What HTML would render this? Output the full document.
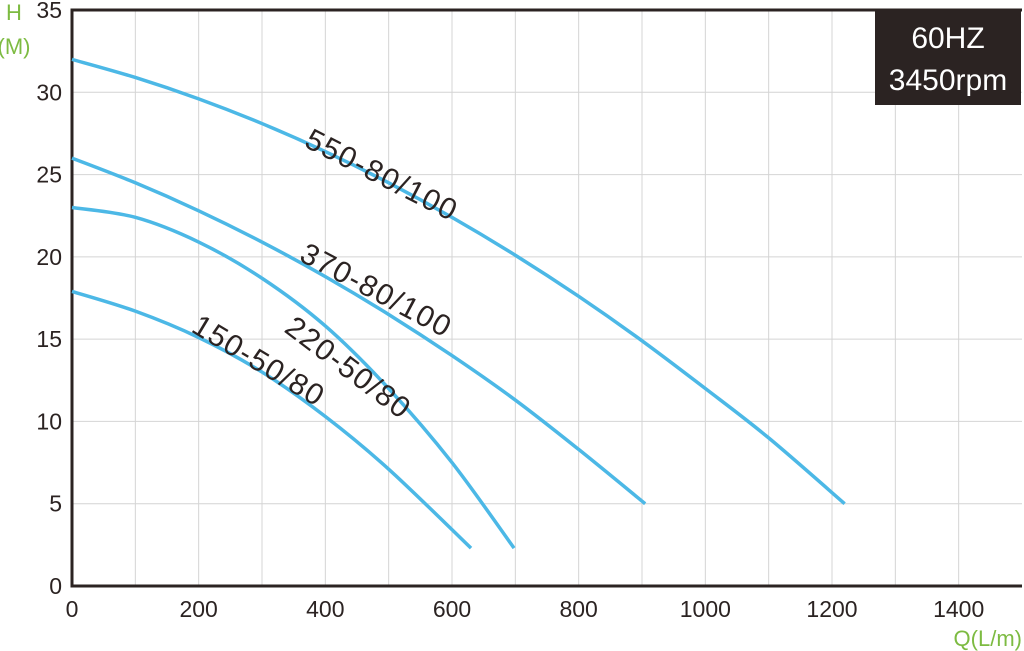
<!DOCTYPE html>
<html><head><meta charset="utf-8"><style>
body{margin:0;background:#fff;width:1024px;height:651px;overflow:hidden}
svg{display:block;font-family:"Liberation Sans",sans-serif}
</style></head><body>
<svg id="c" width="1024" height="651"></svg>
<script>
const xTicks=[0,200,400,600,800,1000,1200,1400];
const yTicks=[0,5,10,15,20,25,30,35];
const seriesNames=["550-80/100","370-80/100","220-50/80","150-50/80"];
const q550=[0,100,200,300,400,500,600,700,800,900,1000,1100,1220];
const h550=[32,30.9,29.6,28.1,26.4,24.5,22.4,20.1,17.6,14.9,12.0,9.0,5];
const q370=[0,100,200,300,400,500,600,700,800,905];
const h370=[26,24.5,22.8,20.9,18.8,16.5,14.0,11.3,8.3,5];
const q220=[0,100,200,300,400,500,600,698];
const h220=[23,22.4,20.9,18.7,15.8,12.0,7.5,2.3];
const q150=[0,100,200,300,400,500,630];
const h150=[17.9,16.7,15.1,13.0,10.3,7.1,2.3];
const NS="http://www.w3.org/2000/svg";
const svg=document.getElementById('c');
const X0=72,X1=1022,Y0=586,Y1=10;
const sx=q=>X0+q*(X1-X0)/1500, sy=h=>Y0-h*(Y0-Y1)/35;
function mk(t,a,p){const e=document.createElementNS(NS,t);for(const k in a)e.setAttribute(k,a[k]);(p||svg).appendChild(e);return e;}
for(let q=100;q<1500;q+=100){
 const l=mk('line',{x1:sx(q),x2:sx(q),y1:Y1,y2:Y0,stroke:'#d4d4d4','stroke-width':1});
 
 
}
for(let h=5;h<35;h+=5){
 const l=mk('line',{x1:X0,x2:X1,y1:sy(h),y2:sy(h),stroke:'#d4d4d4','stroke-width':1});
 
 
}
const fr=mk('path',{d:`M${X1},${Y1}H${X0}V${Y0}H${X1}`,fill:'none',stroke:'#2b2322','stroke-width':3});


xTicks.forEach(v=>{const t=mk('text',{x:sx(v),y:617,'text-anchor':'middle','font-size':23,fill:'#2b2322'});t.textContent=v;
 
 });
yTicks.forEach(v=>{const t=mk('text',{x:62,y:sy(v)+8,'text-anchor':'end','font-size':23,fill:'#2b2322'});t.textContent=v;
 
 });
[['H',14,20,'y-axis-title'],['(M)',14,54,'y-axis-unit']].forEach(a=>{const t=mk('text',{x:a[1],y:a[2],'text-anchor':'middle','font-size':22,fill:'#7dbb42'});t.textContent=a[0];
 
 });
const xt=mk('text',{x:1022,y:646,'text-anchor':'end','font-size':22,fill:'#7dbb42'});xt.textContent='Q(L/m)';


const g=mk('g',{});


mk('rect',{x:875,y:11,width:146,height:94,fill:'#2b2322'},g);
[['60HZ',48],['3450rpm',90]].forEach(a=>{const t=mk('text',{x:948,y:a[1],'text-anchor':'middle','font-size':30,fill:'#fff'},g);t.textContent=a[0];});
function path(qs,hs){
 const p=qs.map((q,i)=>[sx(q),sy(hs[i])]);let d=`M${p[0][0]},${p[0][1]}`;
 for(let i=0;i<p.length-1;i++){const a=p[Math.max(0,i-1)],b=p[i],c=p[i+1],e=p[Math.min(p.length-1,i+2)];
  d+=`C${b[0]+(c[0]-a[0])/6},${b[1]+(c[1]-a[1])/6} ${c[0]-(e[0]-b[0])/6},${c[1]-(e[1]-b[1])/6} ${c[0]},${c[1]}`;}
 return d;}
const data=[[q550,h550],[q370,h370],[q220,h220],[q150,h150]];
const ids=['curve-550-80-100','curve-370-80-100','curve-220-50-80','curve-150-50-80'];
data.forEach((s,i)=>{const p=mk('path',{d:path(s[0],s[1]),fill:'none',stroke:'#4cb8e6','stroke-width':3.5});
 
 });
const labs=[[303,146,27],[298,260,28],[283,331,37],[190,331,31]];
labs.forEach((l,i)=>{const t=mk('text',{x:l[0],y:l[1],'font-size':30,'letter-spacing':1.5,fill:'#2b2322',transform:`rotate(${l[2]} ${l[0]} ${l[1]})`});t.textContent=seriesNames[i];
 
 });
</script>
</body></html>
